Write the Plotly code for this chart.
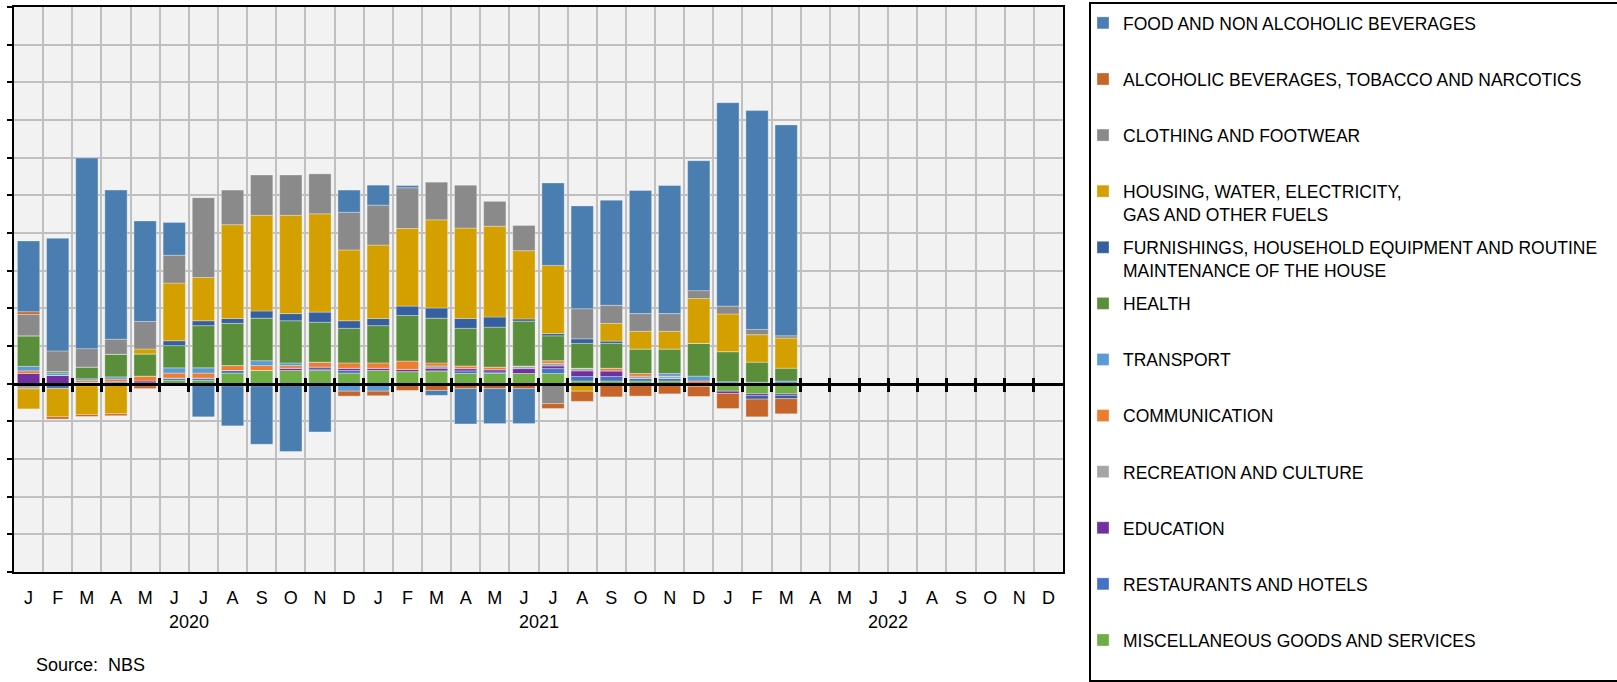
import plotly.graph_objects as go

# ---------------- data ----------------
years = ["2020", "2021", "2022"]
month_names = ["Jan", "Feb", "Mar", "Apr", "May", "Jun",
               "Jul", "Aug", "Sep", "Oct", "Nov", "Dec"]
month_letters = ["J", "F", "M", "A", "M", "J", "J", "A", "S", "O", "N", "D"]
periods = [f"{m} {y}" for y in years for m in month_names]  # 36 months on the axis

# contributions (pp), Jan 2020 - Mar 2022
food = [1.88, 2.99, 5.06, 3.96, 2.67, 0.87, -0.88, -1.06, -1.55, -1.75, -1.23, 0.59,
        0.53, 0.06, -0.13, -0.94, -0.93, -0.93, 2.19, 2.73, 2.79, 3.27, 3.40, 3.45,
        5.40, 5.81, 5.60]
alcohol = [0.07, -0.06, -0.05, -0.05, -0.07, -0.06, 0.00, -0.06, -0.06, -0.05, -0.05, -0.13,
           -0.12, -0.13, -0.13, -0.13, -0.13, -0.13, -0.13, -0.27, -0.35, -0.33, -0.27, -0.27,
           -0.40, -0.47, -0.40]
clothing = [0.57, 0.55, 0.49, 0.40, 0.73, 0.74, 2.12, 0.92, 1.07, 1.07, 1.06, 1.00,
            1.06, 1.08, 1.00, 1.14, 0.66, 0.67, -0.53, 0.80, 0.48, 0.47, 0.47, 0.21,
            0.21, 0.14, 0.06]
housing = [-0.53, -0.75, -0.76, -0.75, 0.13, 1.53, 1.15, 2.49, 2.54, 2.61, 2.61, 1.88,
           1.95, 2.06, 2.34, 2.40, 2.41, 1.81, 1.81, -0.20, 0.47, 0.47, 0.47, 1.19,
           1.00, 0.73, 0.80]
furnishings = [0.00, 0.00, 0.00, 0.00, 0.00, 0.13, 0.13, 0.13, 0.19, 0.19, 0.27, 0.20,
               0.19, 0.25, 0.27, 0.26, 0.27, 0.06, 0.06, 0.12, 0.06, 0.00, 0.00, 0.00,
               0.00, -0.09, -0.09]
health = [0.81, 0.04, 0.31, 0.60, 0.59, 0.59, 1.12, 1.12, 1.13, 1.12, 1.06, 0.92,
          0.99, 1.21, 1.19, 1.00, 1.06, 1.19, 0.66, 0.66, 0.66, 0.65, 0.65, 0.87,
          0.80, 0.53, 0.34]
transport = [0.12, 0.06, 0.05, 0.06, 0.00, 0.14, 0.14, 0.00, 0.13, 0.07, 0.00, -0.20,
             -0.20, -0.05, -0.05, 0.00, 0.00, 0.00, 0.00, 0.00, 0.00, 0.00, 0.07, 0.13,
             0.05, 0.04, 0.07]
communication = [0.07, 0.00, 0.05, 0.07, 0.13, 0.13, 0.13, 0.13, 0.13, 0.07, 0.13, 0.14,
                 0.14, 0.22, 0.08, 0.07, 0.07, 0.00, 0.07, 0.00, 0.07, 0.07, 0.00, 0.07,
                 0.00, 0.00, 0.00]
recreation = [-0.10, 0.00, -0.06, 0.00, -0.06, 0.00, 0.00, 0.00, 0.00, 0.00, 0.00, 0.00,
              0.00, 0.00, 0.06, 0.00, 0.00, 0.07, 0.07, 0.07, 0.00, 0.06, 0.06, 0.00,
              0.00, 0.00, 0.00]
education = [0.27, 0.22, 0.00, 0.00, 0.05, 0.00, 0.00, 0.00, 0.00, 0.06, 0.05, 0.06,
             0.06, 0.06, 0.07, 0.06, 0.06, 0.13, 0.07, 0.15, 0.15, 0.00, 0.00, 0.00,
             -0.06, -0.05, -0.04]
restaurants = [0.00, -0.08, 0.03, 0.05, 0.02, 0.06, 0.06, 0.07, 0.00, 0.00, 0.04, 0.07,
               0.00, 0.00, 0.00, 0.07, 0.04, 0.00, 0.13, 0.12, 0.12, 0.07, 0.07, -0.07,
               0.00, 0.00, 0.00]
miscellaneous = [-0.04, -0.05, 0.00, -0.05, 0.00, 0.09, 0.09, 0.28, 0.35, 0.35, 0.35, 0.28,
                 0.35, 0.32, 0.34, 0.27, 0.27, 0.27, 0.27, 0.07, 0.07, 0.07, 0.07, 0.00,
                 -0.20, -0.27, -0.27]

# series in stacking order (first = nearest to zero)
series = [
    ("MISCELLANEOUS GOODS AND SERVICES", miscellaneous, "#70AD47"),
    ("RESTAURANTS AND HOTELS", restaurants, "#4472C4"),
    ("EDUCATION", education, "#7030A0"),
    ("RECREATION AND CULTURE", recreation, "#A5A5A5"),
    ("COMMUNICATION", communication, "#ED7D31"),
    ("TRANSPORT", transport, "#5B9BD5"),
    ("HEALTH", health, "#5A8E3A"),
    ("FURNISHINGS, HOUSEHOLD EQUIPMENT AND ROUTINE<br>MAINTENANCE OF THE HOUSE", furnishings, "#355FA0"),
    ("HOUSING, WATER, ELECTRICITY,<br>GAS AND OTHER FUELS", housing, "#D4A000"),
    ("CLOTHING AND FOOTWEAR", clothing, "#8A8A8A"),
    ("ALCOHOLIC BEVERAGES, TOBACCO AND NARCOTICS", alcohol, "#C5652A"),
    ("FOOD AND NON ALCOHOLIC BEVERAGES", food, "#4A7EB1"),
]

# ---------------- layout constants ----------------
W, H = 1617, 682
PL, PR, PT, PB = 14, 1063, 7, 572          # plot area in pixels
Y_RANGE = [-5, 10]
FONT = "Liberation Sans, Arial, sans-serif"
GRID = "#c0c0c0"


def px_x(x):
    return (x - PL) / (PR - PL)


def px_y(y):
    return (PB - y) / (PB - PT)


zero_pos = (0 - Y_RANGE[0]) / (Y_RANGE[1] - Y_RANGE[0])
n_cat = len(periods)
n_ser = len(series)

fig = go.Figure()
for idx, (name, vals, color) in enumerate(series):
    label = name if "<br>" in name else name + "<br> "
    fig.add_trace(go.Bar(
        x=periods[:len(vals)], y=vals, name=label, legendgroup=name,
        legendrank=(n_ser - idx) * 10,
        marker=dict(color=color, line=dict(color="rgba(255,255,255,0.45)", width=0.7)),
        hoverinfo="x+y+name",
    ))

# helper (empty) traces that activate the zero-line tick axes
for ax in ("x2", "x3"):
    fig.add_trace(go.Scatter(x=[], y=[], xaxis=ax, yaxis="y", showlegend=False,
                             hoverinfo="skip"))

boundaries = [k + 0.5 for k in range(n_cat - 1)]

annotations = []
for yi, yr in enumerate(years):
    annotations.append(dict(
        x=yi * 12 + 5.5, xref="x", y=px_y(622), yref="paper", text=yr,
        showarrow=False, xanchor="center", yanchor="middle",
        font=dict(family=FONT, size=18, color="black")))
annotations.append(dict(
    x=px_x(34), xref="paper", y=px_y(665), yref="paper", text="Source:\u00a0 NBS",
    showarrow=False, xanchor="left", yanchor="middle",
    font=dict(family=FONT, size=18, color="black")))

fig.update_layout(
    width=W, height=H, autosize=False,
    margin=dict(l=PL, r=W - PR, t=PT, b=H - PB, pad=0, autoexpand=False),
    paper_bgcolor="white", plot_bgcolor="#f2f2f2",
    barmode="relative", bargap=0.235,
    font=dict(family=FONT, size=18, color="black"),
    xaxis=dict(
        type="category", categoryorder="array", categoryarray=periods,
        range=[-0.5, n_cat - 0.5], tickmode="array", tickvals=periods,
        ticktext=month_letters * len(years), tickson="boundaries",
        ticks="", showgrid=True, gridcolor=GRID, gridwidth=2.3,
        showline=True, mirror=True, linecolor="black", linewidth=2,
        tickfont=dict(family=FONT, size=18, color="black"), ticklabelstandoff=8,
        zeroline=False, fixedrange=True,
    ),
    xaxis2=dict(
        overlaying="x", anchor="free", position=zero_pos, type="linear",
        range=[-0.5, n_cat - 0.5], tickmode="array", tickvals=boundaries,
        ticks="outside", ticklen=6, tickwidth=2.5, tickcolor="black",
        showticklabels=False, showgrid=False, zeroline=False,
        showline=True, linecolor="black", linewidth=3, layer="above traces",
        fixedrange=True,
    ),
    xaxis3=dict(
        overlaying="x", anchor="free", position=zero_pos, type="linear",
        range=[-0.5, n_cat - 0.5], tickmode="array", tickvals=boundaries,
        ticks="inside", ticklen=6, tickwidth=2.5, tickcolor="black",
        showticklabels=False, showgrid=False, zeroline=False, showline=False,
        layer="above traces", fixedrange=True,
    ),
    yaxis=dict(
        range=Y_RANGE, tick0=0, dtick=1, showticklabels=False,
        ticks="outside", ticklen=5, tickwidth=2, tickcolor="black",
        showgrid=True, gridcolor=GRID, gridwidth=2.3, zeroline=False,
        showline=True, mirror=True, linecolor="black", linewidth=2,
        fixedrange=True,
    ),
    legend=dict(
        x=px_x(1083), y=px_y(5), xanchor="left", yanchor="top",
        traceorder="grouped", tracegroupgap=7.6, valign="top",
        font=dict(family=FONT, size=17.5, color="black"),
        bgcolor="rgba(0,0,0,0)", borderwidth=0,
    ),
    shapes=[dict(
        type="rect", xref="paper", yref="paper",
        x0=px_x(1090), x1=px_x(1640), y0=px_y(681), y1=px_y(3),
        line=dict(color="black", width=2), fillcolor="rgba(0,0,0,0)", layer="below",
    )],
    annotations=annotations,
    showlegend=True,
)

try:
    fig.update_layout(legend_maxheight=900)
except Exception:
    fig.update_layout(legend=dict(yref="container", y=1.0))

fig.write_html("out.html", config={"displayModeBar": False},
               post_script="document.body.style.margin='0px';")
